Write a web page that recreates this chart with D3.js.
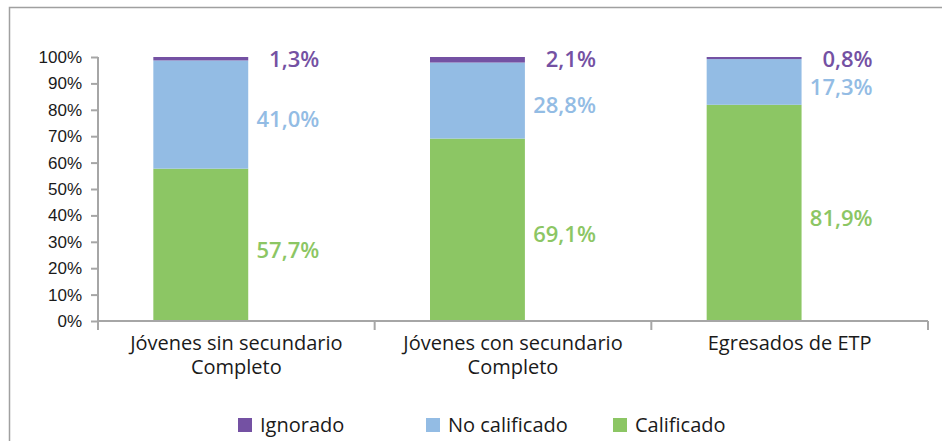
<!DOCTYPE html>
<html>
<head>
<meta charset="utf-8">
<script src="https://cdn.jsdelivr.net/npm/d3@7"></script>
<style>
  body { margin: 0; background: #fff; }
  svg { display: block; font-family: "Open Sans", "Noto Sans", sans-serif; }
</style>
</head>
<body>
<svg id="chart"></svg>
<script>
// Chart data
const categories = [["Jóvenes sin secundario", "Completo"], ["Jóvenes con secundario", "Completo"], ["Egresados de ETP"]];
const calificado = [57.7, 69.1, 81.9];
const noCalificado = [41.0, 28.8, 17.3];
const ignorado = [1.3, 2.1, 0.8];
const yTicks = [0, 10, 20, 30, 40, 50, 60, 70, 80, 90, 100];
const seriesNames = ["Ignorado", "No calificado", "Calificado"];

const colors = { "Calificado": "#8CC664", "No calificado": "#93BCE4", "Ignorado": "#7451A3" };
const axisColor = "#A6A6A6";

const width = 942, height = 441;
const svg = d3.select("#chart").attr("width", width).attr("height", height);

// outer frame (runs off the right and bottom edge)
svg.append("rect")
  .attr("x", 9.5).attr("y", 7.5)
  .attr("width", 960).attr("height", 460)
  .attr("fill", "none")
  .attr("stroke", "#A0A0A0")
  .attr("stroke-width", 1.5);

const x = d3.scaleBand()
  .domain(d3.range(categories.length))
  .range([98, 928])
  .padding(0);

const y = d3.scaleLinear().domain([0, 100]).range([321, 57]);

// stacked rows
const rows = categories.map((c, i) => ({
  i: i,
  "Calificado": calificado[i],
  "No calificado": noCalificado[i],
  "Ignorado": ignorado[i]
}));
const stack = d3.stack().keys(["Calificado", "No calificado", "Ignorado"]);
const stacked = stack(rows);

const barOffset = x.bandwidth() * 0.2;
const barWidth = x.bandwidth() * 0.343;

svg.append("g").selectAll("g")
  .data(stacked)
  .enter()
  .append("g")
  .attr("fill", s => colors[s.key])
  .selectAll("rect")
  .data(s => s)
  .enter()
  .append("rect")
  .attr("x", d => x(d.data.i) + barOffset)
  .attr("width", barWidth)
  .attr("y", d => y(d[1]))
  .attr("height", d => y(d[0]) - y(d[1]));

// y axis
const yAxis = d3.axisLeft(y)
  .tickValues(yTicks)
  .tickSize(7)
  .tickPadding(9)
  .tickFormat(d => d + "%");
const gy = svg.append("g").attr("transform", "translate(98,0)").call(yAxis);
gy.select(".domain").remove();
gy.append("line").attr("x1", 0).attr("x2", 0).attr("y1", y(100)).attr("y2", y(0) + 9)
  .attr("stroke", axisColor).attr("stroke-width", 2);
gy.selectAll(".tick line").attr("stroke", axisColor).attr("stroke-width", 2);
gy.selectAll(".tick text").attr("fill", "#1a1a1a").attr("font-size", 17);

// x axis
const gx = svg.append("g");
gx.append("line").attr("x1", 98).attr("x2", 928).attr("y1", y(0)).attr("y2", y(0))
  .attr("stroke", axisColor).attr("stroke-width", 2);
gx.selectAll("line.sep")
  .data(d3.range(categories.length + 1))
  .enter()
  .append("line")
  .attr("class", "sep")
  .attr("x1", d => 98 + d * x.bandwidth())
  .attr("x2", d => 98 + d * x.bandwidth())
  .attr("y1", y(0))
  .attr("y2", y(0) + 9)
  .attr("stroke", axisColor).attr("stroke-width", 2);

gx.selectAll("text.cat")
  .data(categories)
  .enter()
  .append("text")
  .attr("class", "cat")
  .attr("text-anchor", "middle")
  .attr("font-size", 20)
  .attr("fill", "#1a1a1a")
  .each(function(lines, i) {
    const t = d3.select(this);
    lines.forEach((ln, k) => {
      t.append("tspan")
        .attr("x", x(i) + x.bandwidth() / 2)
        .attr("y", 350 + k * 24)
        .text(ln);
    });
  });

// data labels
const labelFmt = v => v.toFixed(1).replace(".", ",") + "%";
const labelGroup = svg.append("g")
  .attr("font-size", 22)
  .attr("font-weight", 600)
  .attr("text-anchor", "end");

stacked.forEach(s => {
  labelGroup.selectAll(null)
    .data(s)
    .enter()
    .append("text")
    .attr("x", d => x(d.data.i) + barOffset + barWidth + 71)
    .attr("y", d => s.key === "Ignorado" ? y(d[1]) + 2 : (y(d[0]) + y(d[1])) / 2 + 5)
    .attr("dy", "0.35em")
    .attr("fill", colors[s.key])
    .text(d => labelFmt(d[1] - d[0]));
});

// legend
const legendX = [238, 426, 613];
const legend = svg.append("g").selectAll("g")
  .data(seriesNames)
  .enter()
  .append("g")
  .attr("transform", (d, i) => `translate(${legendX[i]},418)`);
legend.append("rect")
  .attr("width", 14).attr("height", 14)
  .attr("fill", d => colors[d]);
legend.append("text")
  .attr("x", 22).attr("y", 14)
  .attr("font-size", 20)
  .attr("fill", "#1a1a1a")
  .text(d => d);
</script>
</body>
</html>
